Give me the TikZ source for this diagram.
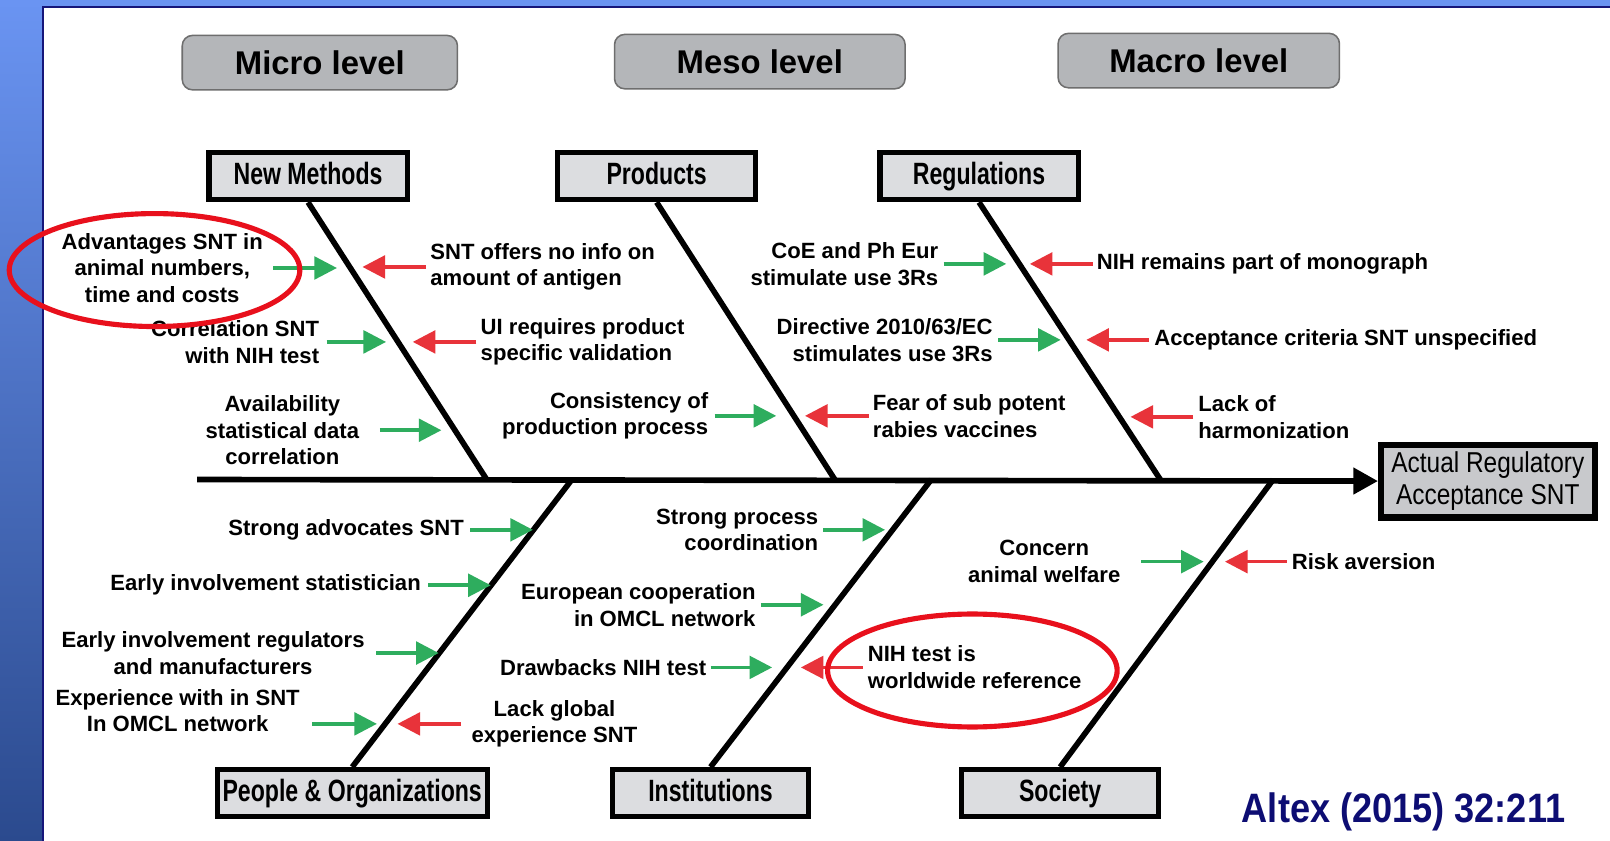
\documentclass[tikz,border=0pt]{standalone}
\usepackage{fontspec}
\usepackage{xcolor}
\setmainfont{Liberation Sans}
\newfontfamily\narrowfont[FakeStretch=0.75]{Liberation Sans}
\newfontfamily\effectfont[FakeStretch=0.85]{Liberation Sans}
\newfontfamily\sourcefont[FakeStretch=0.88]{Liberation Sans}
\usetikzlibrary{arrows.meta}

\definecolor{slidetop}{HTML}{6A94F2}
\definecolor{slidebottom}{HTML}{2B4A8E}
\definecolor{slideedge}{HTML}{16167A}
\definecolor{levelgray}{HTML}{B4B6B9}
\definecolor{levelline}{HTML}{6E6E6E}
\definecolor{catgray}{HTML}{DCDDE0}
\definecolor{effectgray}{HTML}{C8C9CC}
\definecolor{causegreen}{HTML}{2EAD5E}
\definecolor{causered}{HTML}{E8333A}
\definecolor{ringred}{HTML}{E8101C}
\definecolor{sourcenavy}{HTML}{0D0D73}

\tikzstyle{level box}=[
        draw = levelline,
        line width = 1.5pt,
        fill = levelgray,
        rounded corners = 10pt,
        minimum height = 53pt,
        font = \fontsize{32}{36}\selectfont\bfseries
    ]
\tikzstyle{category box}=[
    draw = black,
    line width = 5pt,
    fill = catgray,
    minimum height = 46pt,
    text height = 21pt,
    text depth = 5pt,
    font = \narrowfont\fontsize{30}{32}\selectfont\bfseries
]
\tikzstyle{cause}=[
    inner sep = 0pt,
    font = \fontsize{21.5}{26}\selectfont\bfseries
]
\tikzstyle{green arrow}=[
    draw = causegreen,
    line width = 3.5pt,
    -{Triangle[length=22pt,width=22pt]}
]
\tikzstyle{red arrow}=[
    draw = causered,
    line width = 3.5pt,
    -{Triangle[length=22pt,width=22pt]}
]
\tikzstyle{bone}=[line width = 5.5pt]
\tikzstyle{red ring}=[draw = ringred, line width = 5pt]

\begin{document}
\begin{tikzpicture}[x=1pt, y=-1pt]
        \useasboundingbox (0,0) rectangle (1568,819);
        % slide background
        \shade[top color=slidetop, bottom color=slidebottom] (0,0) rectangle (42,819);
        \fill[slidetop] (0,0) rectangle (1568,7);
        \fill[white] (42,7) rectangle (1568,819);
        \draw[slideedge, line width=1.5pt] (42,825) -- (42,7) -- (1575,7);

        % levels
        \node[level box, minimum width=268pt] (micro) at (311.5,61) {Micro level};
        \node[level box, minimum width=283pt] (meso) at (740,60) {Meso level};
        \node[level box, minimum width=274pt] (macro) at (1167.5,59) {Macro level};

        % categories
        \node[category box, minimum width=193pt] (nm) at (300,171.5) {New Methods};
        \node[category box, minimum width=193pt] (prod) at (639.5,171.5) {Products};
        \node[category box, minimum width=193pt] (reg) at (953.5,171.5) {Regulations};
        \node[category box, minimum width=263pt] (people) at (343,772.5) {People \& Organizations};
        \node[category box, minimum width=191pt] (inst) at (692,772.5) {Institutions};
        \node[category box, minimum width=192pt] (soc) at (1032.5,772.5) {Society};

        % effect and spine
        \node[draw, line width=6pt, fill=effectgray, minimum width=208pt, minimum height=71pt,
              align=center, font=\effectfont\fontsize{28}{32}\selectfont] (effect) at (1449,468.5)
              {Actual Regulatory\\Acceptance SNT};
        \coordinate (tail) at (192,467);
        \draw[line width=5.5pt, -{Triangle[length=24pt,width=25pt]}] (tail) -- (effect.west);

        \coordinate (j1) at (474,467);
        \coordinate (j2) at (813,467);
        \coordinate (j3) at (1130,467);
        \coordinate (j4) at (557,467);
        \coordinate (j5) at (907,467);
        \coordinate (j6) at (1240,467);
        \draw[bone] (nm.south) -- (j1);
        \draw[bone] (prod.south) -- (j2);
        \draw[bone] (reg.south) -- (j3);
        \draw[bone] (people.north) -- (j4);
        \draw[bone] (inst.north) -- (j5);
        \draw[bone] (soc.north) -- (j6);

        % New Methods
        \node[cause, align=center] (t1) at (158,261) {Advantages SNT in\\animal numbers,\\time and costs};
        \node[cause, align=left, anchor=west] (r1) at (419,260) {SNT offers no info on\\amount of antigen};
        \node[cause, align=right, anchor=east] (t2) at (311,333) {Correlation SNT\\with NIH test};
        \node[cause, align=left, anchor=west] (r2) at (468,333) {UI requires product\\specific validation};
        \node[cause, align=center] (t3) at (275,419) {Availability\\statistical data\\correlation};
        \draw[green arrow] ([xshift=10pt]t1.east) -- ++(62,0);
        \draw[red arrow] ([xshift=-4pt]r1.west) -- ++(-62,0);
        \draw[green arrow] ([xshift=7pt]t2.east) -- ++(58,0);
        \draw[red arrow] ([xshift=-4pt]r2.west) -- ++(-62,0);
        \draw[green arrow] ([xshift=20pt]t3.east) -- ++(60,0);

        % Products
        \node[cause, align=right, anchor=east] (t4) at (690,405) {Consistency of\\production process};
        \node[cause, align=left, anchor=west] (r4) at (850,405) {Fear of sub potent\\rabies vaccines};
        \draw[green arrow] ([xshift=6pt]t4.east) -- ++(60,0);
        \draw[red arrow] ([xshift=-4pt]r4.west) -- ++(-62,0);

        % Regulations
        \node[cause, align=right, anchor=east] (t5) at (914,257) {CoE and Ph Eur\\stimulate use 3Rs};
        \node[cause, anchor=west] (r5) at (1068,257) {NIH remains part of monograph};
        \node[cause, align=right, anchor=east] (t6) at (967,331) {Directive 2010/63/EC\\stimulates use 3Rs};
        \node[cause, anchor=west] (r6) at (1124,331) {Acceptance criteria SNT unspecified};
        \node[cause, align=left, anchor=west] (r7) at (1167,406) {Lack of\\harmonization};
        \draw[green arrow] ([xshift=5pt]t5.east) -- ++(61,0);
        \draw[red arrow] ([xshift=-4pt]r5.west) -- ++(-61,0);
        \draw[green arrow] ([xshift=5pt]t6.east) -- ++(61,0);
        \draw[red arrow] ([xshift=-5pt]r6.west) -- ++(-61,0);
        \draw[red arrow] ([xshift=-5pt]r7.west) -- ++(-61,0);

        % People & Organizations
        \node[cause, anchor=east] (t8) at (452,516) {Strong advocates SNT};
        \node[cause, anchor=east] (t9) at (410,570) {Early involvement statistician};
        \node[cause, align=center] (t10) at (207.5,636) {Early involvement regulators\\and manufacturers};
        \node[cause, align=center] (t11) at (173,692) {Experience with in SNT\\In OMCL network};
        \node[cause, align=center] (r11) at (540,705) {Lack global\\experience SNT};
        \draw[green arrow] ([xshift=6pt]t8.east) -- ++(61,0);
        \draw[green arrow] ([xshift=7pt]t9.east) -- ++(61,0);
        \draw[green arrow] ([xshift=11pt]t10.east) -- ++(61,0);
        \draw[green arrow] ([shift={(12,13)}]t11.east) -- ++(63,0);
        \draw[red arrow] ([xshift=-10pt]r11.west) -- ++(-62,0);

        % Institutions
        \node[cause, align=right, anchor=east] (t12) at (797,516) {Strong process\\coordination};
        \node[cause, align=right, anchor=east] (t13) at (736,589) {European cooperation\\in OMCL network};
        \node[cause, anchor=east] (t14) at (688,650) {Drawbacks NIH test};
        \node[cause, align=left, anchor=west] (r15) at (845,650) {NIH test is\\worldwide reference};
        \draw[green arrow] ([xshift=5pt]t12.east) -- ++(60,0);
        \draw[green arrow] ([xshift=5pt]t13.east) -- ++(61,0);
        \draw[green arrow] ([xshift=4pt]t14.east) -- ++(60,0);
        \draw[red arrow] ([xshift=-5pt]r15.west) -- ++(-60,0);

        % Society
        \node[cause, align=center] (t16) at (1017,547) {Concern\\animal welfare};
        \node[cause, anchor=west] (r17) at (1258,547) {Risk aversion};
        \draw[green arrow] ([xshift=20pt]t16.east) -- ++(61,0);
        \draw[red arrow] ([xshift=-5pt]r17.west) -- ++(-60,0);

        % highlights
        \draw[red ring] (150.5,263) ellipse [x radius=141.5, y radius=55];
        \draw[red ring] (947,653) ellipse [x radius=141, y radius=55];

        \node[text=sourcenavy, font=\sourcefont\fontsize{40}{44}\selectfont\bfseries] (src) at (1367,791) {Altex (2015) 32:211};
    \end{tikzpicture}
\end{document}
